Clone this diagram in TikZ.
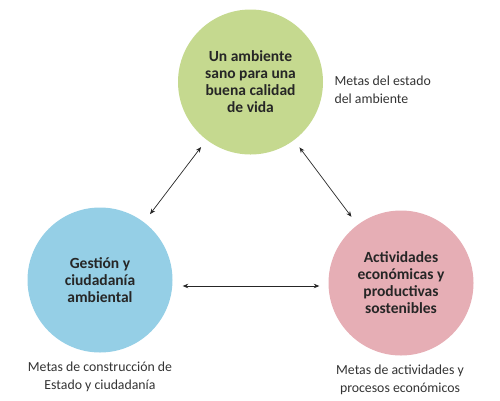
\documentclass[tikz,border=0pt]{standalone}
\usepackage{fontspec}
\setmainfont{Carlito}
\usetikzlibrary{arrows.meta}

\begin{document}
\begin{tikzpicture}[x=1pt, y=-1pt,
    goal/.style={circle, minimum size=145pt, inner sep=0pt, align=center,
        font=\fontsize{15.5}{17}\selectfont\bfseries, text=black!85},
    note/.style={align=center, font=\fontsize{13.8}{18}\selectfont, text=black!80},
    link/.style={{Stealth[length=5.5pt,width=4.5pt]}-{Stealth[length=5.5pt,width=4.5pt]}, line width=0.7pt, black!85}
]
    \useasboundingbox (0,0) rectangle (500,400);
    \definecolor{goalgreen}{HTML}{C5D98F}
    \definecolor{goalblue}{HTML}{95CFE6}
    \definecolor{goalpink}{HTML}{E6AEB5}

    % Circles
    \node[goal, fill=goalgreen] (amb) at (250.5, 82) {Un ambiente\\sano para una\\buena calidad\\de vida};
    \node[goal, fill=goalblue] (gest) at (100, 280) {Gestión y\\ciudadanía\\ambiental};
    \node[goal, fill=goalpink] (act) at (401, 283) {Actividades\\económicas y\\productivas\\sostenibles};

    % Notes
    \node[note, align=left, anchor=west] (namb) at (331, 90) {Metas del estado\\del ambiente};
    \node[note] (ngest) at (100, 377) {Metas de construcción de\\Estado y ciudadanía};
    \node[note] (nact) at (400, 380) {Metas de actividades y\\procesos económicos};

    % Links
    \draw[link, shorten <=9pt, shorten >=10pt] (amb) -- (gest);
    \draw[link, shorten <=9pt, shorten >=10pt] (amb) -- (act);
    \draw[link, shorten <=10pt, shorten >=9pt] ([yshift=-6pt]gest.east) -- ([yshift=-3pt]act.west);
\end{tikzpicture}
\end{document}
